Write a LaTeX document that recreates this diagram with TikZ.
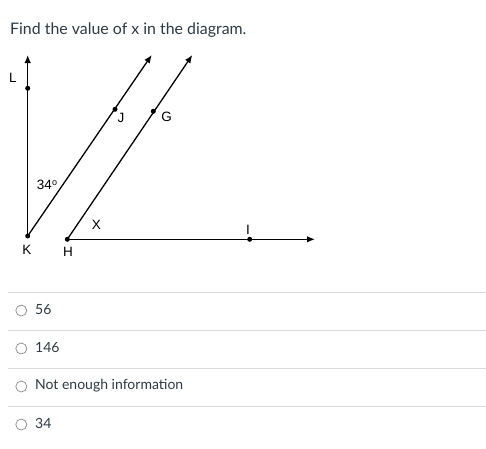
\documentclass[tikz,border=0pt]{standalone}
\usepackage{fontspec}
\setmainfont{Lato}
\newfontfamily\diagfont{Liberation Sans}
\usetikzlibrary{arrows.meta}
\definecolor{txt}{HTML}{2D3B45}
\definecolor{sep}{HTML}{DADADA}
\definecolor{radio}{HTML}{8A8A8A}
\tikzset{
  ray/.style={line width=1.3pt, -{Latex[length=8pt,width=6.5pt]}},
  pt/.style={circle, fill=black, inner sep=0pt, minimum size=5pt},
  lab/.style={font=\diagfont\fontsize{13.5}{15}\selectfont, inner sep=0pt},
  qtext/.style={font=\fontsize{14}{16}\selectfont, text=txt, inner sep=0pt, anchor=west},
  ttext/.style={font=\fontsize{15.9}{18}\selectfont, text=txt, inner sep=0pt, anchor=west},
  sepline/.style={draw=sep, line width=0.8pt},
  radiobtn/.style={circle, draw=radio, line width=0.7pt, minimum size=11pt, inner sep=0pt}
}
\begin{document}
\begin{tikzpicture}[x=1pt,y=-1pt]
\useasboundingbox[fill=white] (0,0) rectangle (486,448);
\node[ttext] (title) at (10,30) {Find the value of x in the diagram.};
% points
\node[pt] (K) at (27.7,236) {};
\node[pt] (L) at (27.7,88.3) {};
\node[pt] (J) at (115,109.3) {};
\node[pt] (H) at (67.3,239.3) {};
\node[pt] (G) at (153.3,111.3) {};
\node[pt] (I) at (249.7,239.3) {};
\coordinate (Ltip) at (27.7,55);
\coordinate (Jtip) at (151.7,55);
\coordinate (Gtip) at (192.3,55);
\coordinate (Itip) at (315,239.3);
\draw[ray] (K.center) -- (Ltip);
\draw[ray] (K.center) -- (Jtip);
\draw[ray] (H.center) -- (Gtip);
\draw[ray] (H.center) -- (Itip);
% labels
\node[lab] (Llab) at (13,78) {L};
\node[lab] (Klab) at (27,250) {K};
\node[lab] (Jlab) at (121,118) {J};
\node[lab] (Hlab) at (68,251.5) {H};
\node[lab] (Glab) at (166.5,117) {G};
\node[lab] (Ilab) at (248,229.5) {I};
\node[lab] (Xlab) at (96.3,225) {X};
\node[lab] (anglab) at (47,185) {34\raisebox{0.55ex}{\fontsize{9}{9}\selectfont o}};
% answers
\draw[sepline] (8.3,292.7) -- (486,292.7);
\draw[sepline] (8.3,330.7) -- (486,330.7);
\draw[sepline] (8.3,368.7) -- (486,368.7);
\draw[sepline] (8.3,406.7) -- (486,406.7);
\node[radiobtn] (r1) at (21.3,310.5) {};
\node[radiobtn] (r2) at (21.3,348.5) {};
\node[radiobtn] (r3) at (21.3,386.5) {};
\node[radiobtn] (r4) at (21.3,424.5) {};
\node[qtext] (a1) at (35,309.5) {56};
\node[qtext] (a2) at (35,347.5) {146};
\node[qtext] (a3) at (35,385.5) {Not enough information};
\node[qtext] (a4) at (35,423.5) {34};
\end{tikzpicture}
\end{document}
